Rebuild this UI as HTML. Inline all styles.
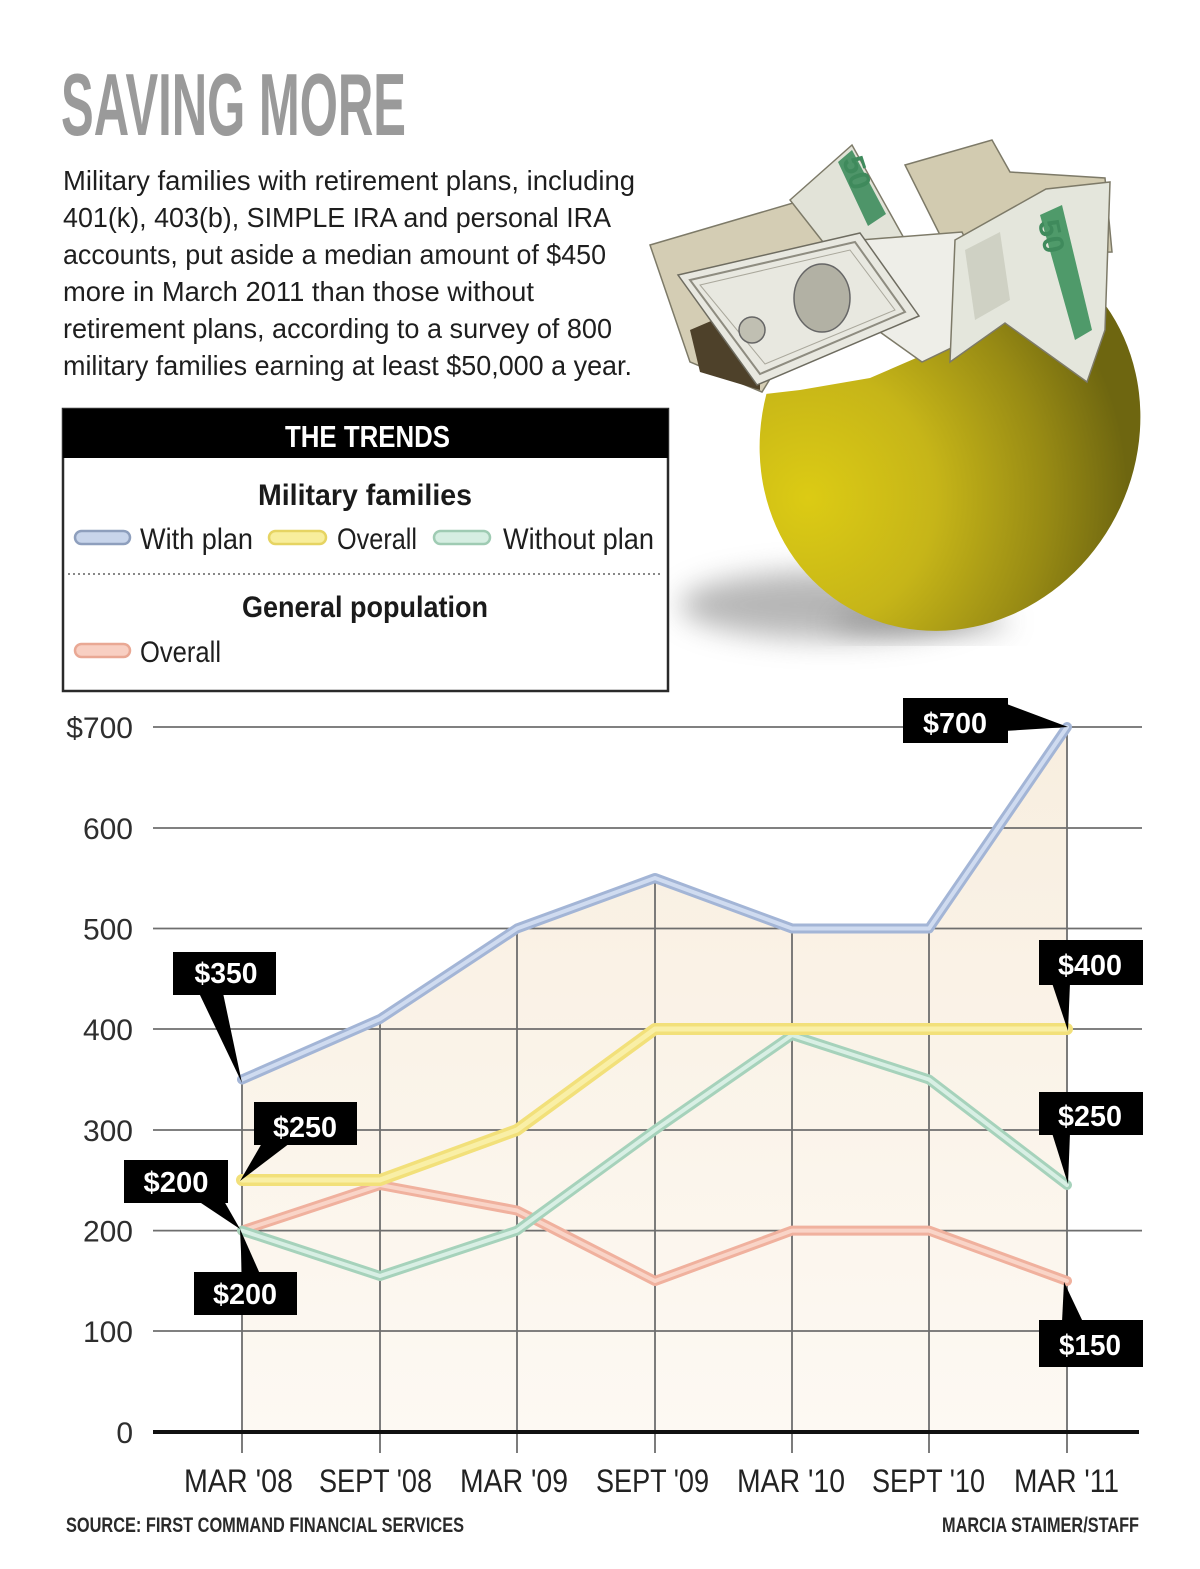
<!DOCTYPE html>
<html><head><meta charset="utf-8"><style>
html,body{margin:0;padding:0;background:#fff;}
svg{display:block;}
text{font-family:"Liberation Sans Narrow","Liberation Sans",sans-serif;}
</style></head><body>
<svg width="1200" height="1569" viewBox="0 0 1200 1569" xmlns="http://www.w3.org/2000/svg">
<defs>
<linearGradient id="fillg" x1="0" y1="727" x2="0" y2="1432" gradientUnits="userSpaceOnUse">
<stop offset="0" stop-color="#f8eedf"/><stop offset="1" stop-color="#fdf9f3"/>
</linearGradient>
<radialGradient id="eggg" cx="860" cy="560" r="320" gradientUnits="userSpaceOnUse">
<stop offset="0" stop-color="#dccb14"/><stop offset="0.4" stop-color="#c6b518"/><stop offset="0.75" stop-color="#978a14"/><stop offset="1" stop-color="#6e6610"/>
</radialGradient>
<filter id="blur" x="-50%" y="-50%" width="200%" height="200%"><feGaussianBlur stdDeviation="14"/></filter>
<clipPath id="eggclip"><path d="M730,398 L800,390 L870,378 L930,352 L1000,318 L1060,290 L1100,262 L1170,240 L1170,660 L730,660 Z"/></clipPath>
</defs>
<rect width="1200" height="1569" fill="#fff"/>

<!-- Title -->
<text x="61" y="135" font-size="88" font-weight="bold" fill="#9a9a9a" textLength="345" lengthAdjust="spacingAndGlyphs">SAVING MORE</text>
<g font-size="28" fill="#1e1e1e">
<text x="63" y="190" textLength="572" lengthAdjust="spacingAndGlyphs">Military families with retirement plans, including</text>
<text x="63" y="227" textLength="548" lengthAdjust="spacingAndGlyphs">401(k), 403(b), SIMPLE IRA and personal IRA</text>
<text x="63" y="264" textLength="543" lengthAdjust="spacingAndGlyphs">accounts, put aside a median amount of $450</text>
<text x="63" y="301" textLength="471" lengthAdjust="spacingAndGlyphs">more in March 2011 than those without</text>
<text x="63" y="338" textLength="549" lengthAdjust="spacingAndGlyphs">retirement plans, according to a survey of 800</text>
<text x="63" y="375" textLength="569" lengthAdjust="spacingAndGlyphs">military families earning at least $50,000 a year.</text>
</g>

<!-- Egg image -->
<ellipse cx="830" cy="605" rx="150" ry="34" fill="#999" opacity="0.7" filter="url(#blur)"/>
<ellipse cx="920" cy="622" rx="90" ry="12" fill="#666" opacity="0.5" filter="url(#blur)"/>
<g clip-path="url(#eggclip)">
<ellipse cx="950" cy="432" rx="186" ry="203" fill="url(#eggg)" transform="rotate(30 950 432)"/>
</g>
<!-- money -->
<g stroke="#7d7a68" stroke-width="1.5">
<polygon points="650,245 810,198 848,252 762,392 690,362" fill="#d4cdb4"/>
<polygon points="905,165 992,140 1010,172 1105,178 1112,252 950,255" fill="#d2cbb0"/>
<polygon points="690,330 760,300 760,390 700,372" fill="#4e412a" stroke="none"/>
<polygon points="790,200 852,145 905,240 845,270" fill="#e2e3d8"/>
<polygon points="838,162 852,150 886,214 868,226" fill="#4e9569" stroke="none"/>
<polygon points="860,240 962,232 1005,322 922,362 880,332" fill="#eeeee8"/>
<polygon points="678,275 860,233 919,316 757,385" fill="#e8e8e0" stroke="#6e6c60"/>
<polygon points="690,280 855,242 905,312 760,374" fill="none" stroke="#8e8c80" stroke-width="2"/>
<polygon points="700,285 850,250 895,310 765,364" fill="none" stroke="#aaa89c" stroke-width="1"/>
<ellipse cx="822" cy="298" rx="28" ry="34" fill="#b2b1a4" stroke="#666"/>
<circle cx="752" cy="330" r="13" fill="#c0bfb2" stroke="#666"/>
<polygon points="955,240 1046,189 1110,182 1105,330 1087,382 1005,323 950,362" fill="#e4e6dc"/>
<polygon points="1040,215 1062,205 1092,330 1075,340" fill="#4f9a6a" stroke="none"/>
<polygon points="965,250 1000,232 1010,300 975,320" fill="#cfd1c4" stroke="none"/>
</g>
<text x="0" y="0" font-size="30" font-weight="bold" fill="#3f8a5c" transform="translate(842,160) rotate(72)">50</text>
<text x="0" y="0" font-size="30" font-weight="bold" fill="#3f8a5c" transform="translate(1038,222) rotate(78)">50</text>

<!-- Legend -->
<rect x="63" y="409" width="605" height="282" fill="#fff" stroke="#2a2a2a" stroke-width="2.5"/>
<rect x="63" y="409" width="605" height="49" fill="#000"/>
<text x="285" y="447" font-size="31" font-weight="bold" fill="#fff" textLength="165" lengthAdjust="spacingAndGlyphs">THE TRENDS</text>
<text x="258" y="505" font-size="30" font-weight="bold" fill="#1a1a1a" textLength="214" lengthAdjust="spacingAndGlyphs">Military families</text>
<rect x="75" y="531" width="55" height="13" rx="6.5" fill="#c8d5eb" stroke="#8e9fbd" stroke-width="2.5"/>
<text x="140" y="549" font-size="30" fill="#1e1e1e" textLength="113" lengthAdjust="spacingAndGlyphs">With plan</text>
<rect x="269" y="531" width="57" height="13" rx="6.5" fill="#f8ee9c" stroke="#e6d462" stroke-width="2.5"/>
<text x="337" y="549" font-size="30" fill="#1e1e1e" textLength="80" lengthAdjust="spacingAndGlyphs">Overall</text>
<rect x="434" y="531" width="56" height="13" rx="6.5" fill="#d6eee2" stroke="#9fcbb3" stroke-width="2.5"/>
<text x="503" y="549" font-size="30" fill="#1e1e1e" textLength="151" lengthAdjust="spacingAndGlyphs">Without plan</text>
<line x1="68" y1="574" x2="663" y2="574" stroke="#888" stroke-width="2" stroke-dasharray="2,3"/>
<text x="242" y="617" font-size="30" font-weight="bold" fill="#1a1a1a" textLength="246" lengthAdjust="spacingAndGlyphs">General population</text>
<rect x="75" y="644" width="55" height="13" rx="6.5" fill="#f8cfc2" stroke="#e9a894" stroke-width="2.5"/>
<text x="140" y="662" font-size="30" fill="#1e1e1e" textLength="81" lengthAdjust="spacingAndGlyphs">Overall</text>

<!-- Chart fill -->
<polygon points="242,1079.5 380,1019 517,928.5 655,878 792,928.5 929,928.5 1067,727 1067,1432 242,1432" fill="url(#fillg)"/>

<!-- Grid -->
<g stroke="#6e6e6e" stroke-width="1.8">
<line x1="153" y1="727" x2="1142" y2="727"/>
<line x1="153" y1="828" x2="1142" y2="828"/>
<line x1="153" y1="928.5" x2="1142" y2="928.5"/>
<line x1="153" y1="1029" x2="1142" y2="1029"/>
<line x1="153" y1="1130" x2="1142" y2="1130"/>
<line x1="153" y1="1230.6" x2="1142" y2="1230.6"/>
<line x1="153" y1="1331" x2="1142" y2="1331"/>
<line x1="242" y1="1079" x2="242" y2="1453"/>
<line x1="380" y1="1019" x2="380" y2="1453"/>
<line x1="517" y1="928" x2="517" y2="1453"/>
<line x1="655" y1="878" x2="655" y2="1453"/>
<line x1="792" y1="928" x2="792" y2="1453"/>
<line x1="929" y1="928" x2="929" y2="1453"/>
<line x1="1067" y1="727" x2="1067" y2="1453"/>
</g>
<line x1="153" y1="1432" x2="1139" y2="1432" stroke="#111" stroke-width="4"/>

<!-- Y labels -->
<g font-size="30" fill="#2e2e2e" text-anchor="end">
<text x="133" y="738" style="font-family:'Liberation Sans',sans-serif">$700</text>
<text x="133" y="839" style="font-family:'Liberation Sans',sans-serif">600</text>
<text x="133" y="939.5" style="font-family:'Liberation Sans',sans-serif">500</text>
<text x="133" y="1040" style="font-family:'Liberation Sans',sans-serif">400</text>
<text x="133" y="1141" style="font-family:'Liberation Sans',sans-serif">300</text>
<text x="133" y="1241.6" style="font-family:'Liberation Sans',sans-serif">200</text>
<text x="133" y="1342" style="font-family:'Liberation Sans',sans-serif">100</text>
<text x="133" y="1443" style="font-family:'Liberation Sans',sans-serif">0</text>
</g>

<!-- Series -->
<g fill="none" stroke-linejoin="round" stroke-linecap="round">
<polyline points="242,1230.6 380,1185 517,1210.5 655,1281 792,1230.6 929,1230.6 1067,1281" stroke="#f0b19e" stroke-width="10"/>
<polyline points="242,1230.6 380,1185 517,1210.5 655,1281 792,1230.6 929,1230.6 1067,1281" stroke="#f9d4c7" stroke-width="4"/>
<polyline points="242,1230.6 380,1276 517,1230.6 655,1130 792,1035 929,1079.5 1067,1185" stroke="#a6d2bb" stroke-width="10"/>
<polyline points="242,1230.6 380,1276 517,1230.6 655,1130 792,1035 929,1079.5 1067,1185" stroke="#d8efe4" stroke-width="4"/>
<polyline points="242,1180 380,1180 517,1130 655,1029 792,1029 929,1029 1067,1029" stroke="#f2e07a" stroke-width="12"/>
<polyline points="242,1180 380,1180 517,1130 655,1029 792,1029 929,1029 1067,1029" stroke="#f9efa6" stroke-width="5"/>
<polyline points="242,1079.5 380,1019 517,928.5 655,878 792,928.5 929,928.5 1067,727" stroke="#a3b5d6" stroke-width="10"/>
<polyline points="242,1079.5 380,1019 517,928.5 655,878 792,928.5 929,928.5 1067,727" stroke="#cfdbf0" stroke-width="4"/>
</g>

<!-- Callouts -->
<g fill="#000">
<rect x="903" y="698" width="105" height="45"/><polygon points="1004,703 1068,727 1004,731"/>
<rect x="1039" y="940" width="104" height="45"/><polygon points="1052,983 1068,1031 1070,983"/>
<rect x="1039" y="1092" width="104" height="43"/><polygon points="1052,1133 1068,1184 1070,1133"/>
<rect x="1039" y="1320" width="104" height="47"/><polygon points="1064,1282 1062,1322 1083,1322"/>
<rect x="173" y="952" width="103" height="43"/><polygon points="199,993 242,1083 223,993"/>
<rect x="254" y="1102" width="103" height="43"/><polygon points="262,1143 240,1181 290,1143"/>
<rect x="124" y="1160" width="104" height="43"/><polygon points="198,1201 240,1229 224,1201"/>
<rect x="194" y="1272" width="103" height="43"/><polygon points="240,1229 242,1274 260,1274"/>
</g>
<g font-size="29" font-weight="bold" fill="#fff" text-anchor="middle">
<text x="955" y="733" textLength="64" lengthAdjust="spacingAndGlyphs">$700</text>
<text x="1090" y="975" textLength="64" lengthAdjust="spacingAndGlyphs">$400</text>
<text x="1090" y="1126" textLength="64" lengthAdjust="spacingAndGlyphs">$250</text>
<text x="1090" y="1355" textLength="62" lengthAdjust="spacingAndGlyphs">$150</text>
<text x="226" y="983" textLength="63" lengthAdjust="spacingAndGlyphs">$350</text>
<text x="305" y="1137" textLength="64" lengthAdjust="spacingAndGlyphs">$250</text>
<text x="176" y="1192" textLength="65" lengthAdjust="spacingAndGlyphs">$200</text>
<text x="245" y="1304" textLength="64" lengthAdjust="spacingAndGlyphs">$200</text>
</g>

<!-- X labels -->
<g font-size="32" fill="#222">
<text x="184" y="1492" textLength="109" lengthAdjust="spacingAndGlyphs">MAR '08</text>
<text x="319" y="1492" textLength="113" lengthAdjust="spacingAndGlyphs">SEPT '08</text>
<text x="460" y="1492" textLength="108" lengthAdjust="spacingAndGlyphs">MAR '09</text>
<text x="596" y="1492" textLength="113" lengthAdjust="spacingAndGlyphs">SEPT '09</text>
<text x="737" y="1492" textLength="108" lengthAdjust="spacingAndGlyphs">MAR '10</text>
<text x="872" y="1492" textLength="113" lengthAdjust="spacingAndGlyphs">SEPT '10</text>
<text x="1014" y="1492" textLength="105" lengthAdjust="spacingAndGlyphs">MAR '11</text>
</g>
<text x="66" y="1532" font-size="21" font-weight="bold" fill="#2a2a2a" textLength="398" lengthAdjust="spacingAndGlyphs">SOURCE: FIRST COMMAND FINANCIAL SERVICES</text>
<text x="942" y="1532" font-size="21" font-weight="bold" fill="#2a2a2a" textLength="197" lengthAdjust="spacingAndGlyphs">MARCIA STAIMER/STAFF</text>
</svg>
</body></html>
